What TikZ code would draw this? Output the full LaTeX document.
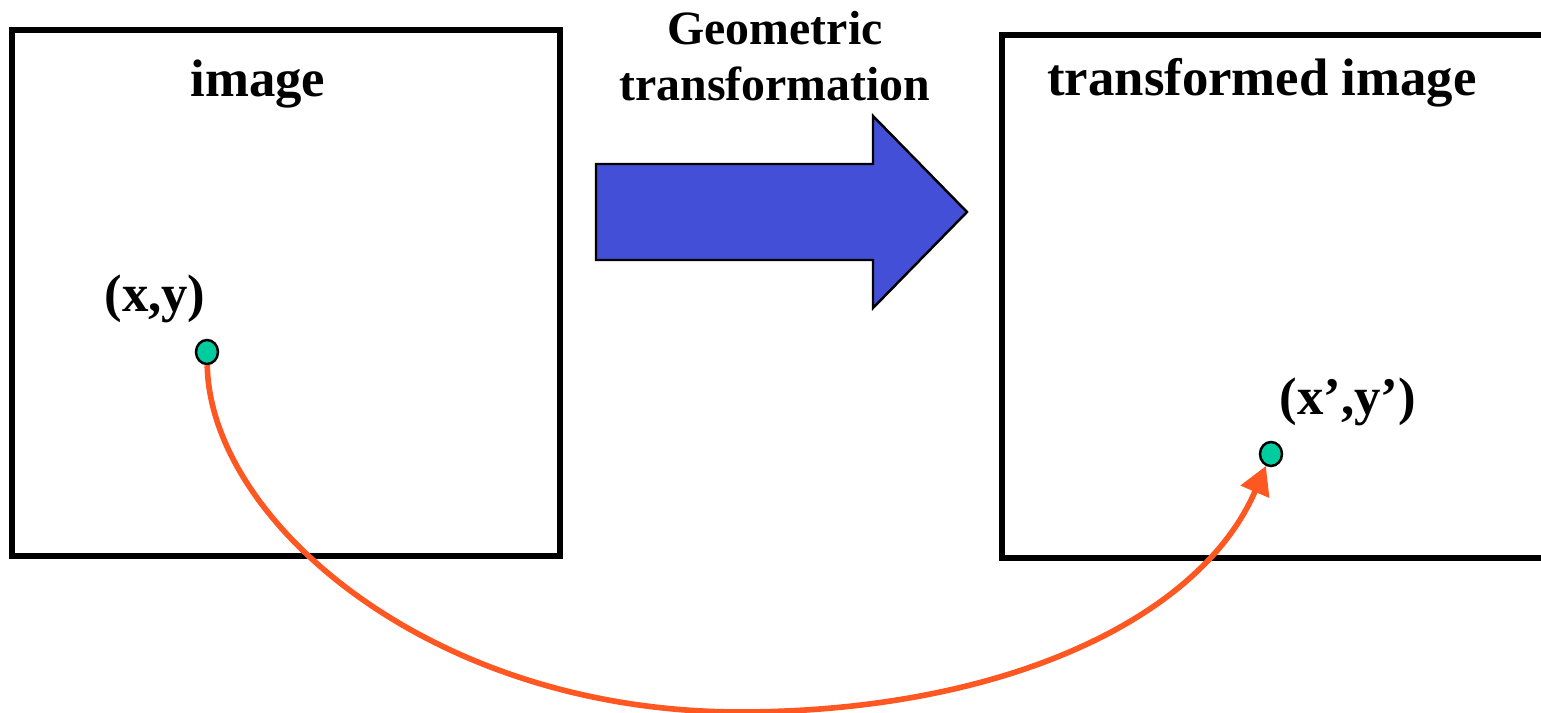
\documentclass[tikz,border=0pt]{standalone}
\usepackage{fontspec}
\setmainfont{Liberation Serif}
\usepackage{tikz}
\usetikzlibrary{arrows.meta}
\definecolor{myblue}{RGB}{67,79,214}
\definecolor{myorange}{RGB}{255,87,34}
\definecolor{myteal}{RGB}{0,204,160}
\tikzset{
  frame/.style={draw=black, line width=1.5pt},
  label/.style={anchor=base, inner sep=0pt,
    font=\fontsize{15}{18}\selectfont\bfseries},
  smalllabel/.style={label, font=\fontsize{13.6}{16}\selectfont\bfseries},
  pixel/.style={ellipse, draw=black, fill=myteal, line width=0.7pt,
    minimum width=0.22cm, minimum height=0.24cm, inner sep=0pt},
  maparrow/.style={-{Triangle[length=2.8mm, width=3mm]}, line width=1.6pt,
    color=myorange}
}
\usetikzlibrary{shapes.geometric}
\begin{document}
\begin{tikzpicture}[x=0.01cm, y=-0.01cm]
  \useasboundingbox (0,0) rectangle (1541,713);
  \clip (0,0) rectangle (1541,713);

  % Source and target images
  \draw[frame] (12,30) rectangle (560,556);
  \draw[frame] (1002,35) rectangle (1570,558);
  \node[label] (imgtitle) at (258,97) {image};
  \node[label] (outtitle) at (1262,96) {transformed image};

  % Geometric transformation arrow
  \draw[fill=myblue, line width=0.7pt] (596,164) -- (873,164) -- (873,116)
    -- (967,212) -- (873,308) -- (873,260) -- (596,260) -- cycle;
  \node[smalllabel] (geo) at (775,45) {Geometric};
  \node[smalllabel] (trans) at (775,101) {transformation};

  % Pixel positions
  \node[pixel] (src) at (207,352) {};
  \node[pixel] (dst) at (1271,454) {};
  \node[label] (srclbl) at (155,312) {(x,y)};
  \node[label] (dstlbl) at (1348,415) {(x’,y’)};

  % Mapping of the pixel
  \coordinate (low) at (740,712);
  \draw[maparrow] (src) .. controls (210,520) and (430,712) .. (low)
    .. controls (1000,712) and (1200,620) .. (dst);
\end{tikzpicture}
\end{document}
